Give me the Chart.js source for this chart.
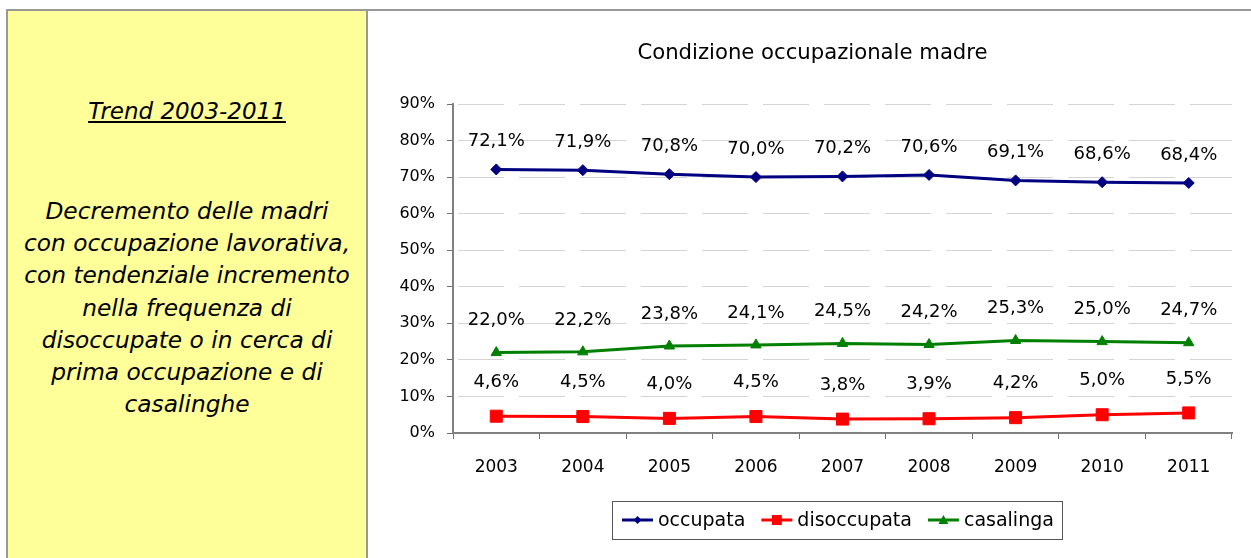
<!DOCTYPE html>
<html><head><meta charset="utf-8">
<script src="https://cdn.jsdelivr.net/npm/chart.js@4/dist/chart.umd.min.js"></script>
<style>
html,body{margin:0;padding:0;background:#fff;width:1251px;height:558px;overflow:hidden;}
#frame{position:absolute;left:6px;top:9px;width:1250px;height:560px;border-top:2px solid #999;border-left:2px solid #999;}
#panel{position:absolute;left:8px;top:11px;width:358px;height:560px;background:#ffff99;border-right:2px solid #999;font-family:"DejaVu Sans",sans-serif;font-style:italic;color:#000;text-align:center;}
#ptitle{position:absolute;left:0;width:358px;top:85px;font-size:23px;line-height:30px;}
#ptitle span{text-decoration:underline;}
#ptext{position:absolute;left:0;width:358px;top:184px;font-size:23.3px;line-height:32.2px;}
#wrap{position:absolute;left:368px;top:12px;width:883px;height:546px;}
</style>
</head><body>
<div id="frame"></div>
<div id="panel">
  <div id="ptitle"><span>Trend 2003-2011</span></div>
  <div id="ptext">Decremento delle madri<br>con occupazione lavorativa,<br>con tendenziale incremento<br>nella frequenza di<br>disoccupate o in cerca di<br>prima occupazione e di<br>casalinghe</div>
</div>
<div id="wrap"><canvas id="c"></canvas></div>
<script>
const categories = ['2003','2004','2005','2006','2007','2008','2009','2010','2011'];
const occupata    = [72.1, 71.9, 70.8, 70.0, 70.2, 70.6, 69.1, 68.6, 68.4];
const disoccupata = [4.6, 4.5, 4.0, 4.5, 3.8, 3.9, 4.2, 5.0, 5.5];
const casalinga   = [22.0, 22.2, 23.8, 24.1, 24.5, 24.2, 25.3, 25.0, 24.7];
const yTicks = [0, 10, 20, 30, 40, 50, 60, 70, 80, 90];
const chartTitle = 'Condizione occupazionale madre';
const seriesNames = ['occupata', 'disoccupata', 'casalinga'];

const FONT = '"DejaVu Sans", sans-serif';
const fmt = v => v.toFixed(1).replace('.', ',') + '%';

function drawMarker(ctx, style, x, y, r, color) {
  ctx.fillStyle = color;
  ctx.beginPath();
  if (style === 'rectRot') {
    ctx.moveTo(x - r, y); ctx.lineTo(x, y - r); ctx.lineTo(x + r, y); ctx.lineTo(x, y + r);
  } else if (style === 'rect') {
    ctx.rect(x - r, y - r, 2 * r, 2 * r);
  } else {
    ctx.moveTo(x, y - r); ctx.lineTo(x + r, y + r * 0.8); ctx.lineTo(x - r, y + r * 0.8);
  }
  ctx.closePath();
  ctx.fill();
}

const labelPlugin = {
  id: 'valueLabels',
  afterDatasetsDraw(chart) {
    const ctx = chart.ctx;
    ctx.save();
    ctx.font = '18px ' + FONT;
    ctx.fillStyle = '#000';
    ctx.textAlign = 'center';
    ctx.textBaseline = 'middle';
    chart.data.datasets.forEach((ds, i) => {
      const meta = chart.getDatasetMeta(i);
      meta.data.forEach((pt, j) => {
        ctx.fillText(fmt(ds.data[j]), pt.x, pt.y - ds.labelOffset);
      });
    });
    ctx.restore();
  }
};

const decorPlugin = {
  id: 'decor',
  afterDraw(chart) {
    const ctx = chart.ctx;
    ctx.save();
    // title
    ctx.font = '21.2px ' + FONT;
    ctx.fillStyle = '#000';
    ctx.textAlign = 'center';
    ctx.textBaseline = 'middle';
    ctx.fillText(chartTitle, chart.width / 2 + 3, 41);
    // legend
    ctx.font = '19px ' + FONT;
    const lineLen = 31, gapLT = 5, gapItems = 16, padL = 10, padR = 8;
    const widths = chart.data.datasets.map(ds => ctx.measureText(ds.label).width);
    let total = padL + padR;
    widths.forEach((w, i) => { total += lineLen + gapLT + w + (i < widths.length - 1 ? gapItems : 0); });
    const cx = 469, cy = 508, h = 38;
    const x0 = Math.round(cx - total / 2);
    ctx.strokeStyle = '#555';
    ctx.lineWidth = 1;
    ctx.strokeRect(x0 + 0.5, cy - h / 2 + 0.5, Math.round(total), h);
    let x = x0 + padL;
    ctx.textAlign = 'left';
    chart.data.datasets.forEach((ds, i) => {
      ctx.strokeStyle = ds.borderColor;
      ctx.lineWidth = 3;
      ctx.beginPath();
      ctx.moveTo(x, cy); ctx.lineTo(x + lineLen, cy);
      ctx.stroke();
      drawMarker(ctx, ds.pointStyle, x + lineLen / 2, cy, ds.legendMarker, ds.borderColor);
      x += lineLen + gapLT;
      ctx.fillStyle = '#000';
      ctx.fillText(ds.label, x, cy + 1);
      x += widths[i] + gapItems;
    });
    ctx.restore();
  }
};

new Chart(document.getElementById('c'), {
  type: 'line',
  data: {
    labels: categories,
    datasets: [
      { label: seriesNames[0], data: occupata, borderColor: '#000080', backgroundColor: '#000080',
        borderWidth: 3, pointStyle: 'rectRot', pointRadius: 5.5, pointBorderWidth: 1, labelOffset: 28, legendMarker: 4 },
      { label: seriesNames[1], data: disoccupata, borderColor: '#ff0000', backgroundColor: '#ff0000',
        borderWidth: 3, pointStyle: 'rect', pointRadius: 8.5, pointBorderWidth: 1, labelOffset: 34, legendMarker: 5 },
      { label: seriesNames[2], data: casalinga, borderColor: '#008000', backgroundColor: '#008000',
        borderWidth: 3, pointStyle: 'triangle', pointRadius: 6, pointBorderWidth: 1, labelOffset: 32, legendMarker: 5 }
    ]
  },
  options: {
    responsive: true,
    maintainAspectRatio: false,
    animation: false,
    layout: { padding: { left: 0, right: 19, top: 92, bottom: 85 } },
    plugins: { legend: { display: false }, title: { display: false }, tooltip: { enabled: false } },
    elements: { line: { tension: 0 } },
    scales: {
      x: {
        offset: true,
        grid: { offset: true, drawOnChartArea: false, drawTicks: true, tickLength: 6, tickColor: '#707070', tickWidth: 1 },
        border: { display: true, color: '#808080', width: 2 },
        ticks: { font: { size: 17, family: FONT }, color: '#000', padding: 18, maxRotation: 0 },
        afterFit: s => { s.height = 40; }
      },
      y: {
        min: 0, max: 90,
        afterBuildTicks: s => { s.ticks = yTicks.map(v => ({ value: v })); },
        ticks: { callback: v => v + '%', font: { size: 16, family: FONT }, color: '#000', padding: 12 },
        grid: { color: '#d4d4d4', lineWidth: 1, tickLength: 6, tickColor: '#707070', tickWidth: 1, drawTicks: true },
        border: { display: true, color: '#808080', width: 2, dash: [46, 15], dashOffset: -4 },
        afterFit: s => { s.width = 85; }
      }
    }
  },
  plugins: [labelPlugin, decorPlugin]
});
</script>
</body></html>
